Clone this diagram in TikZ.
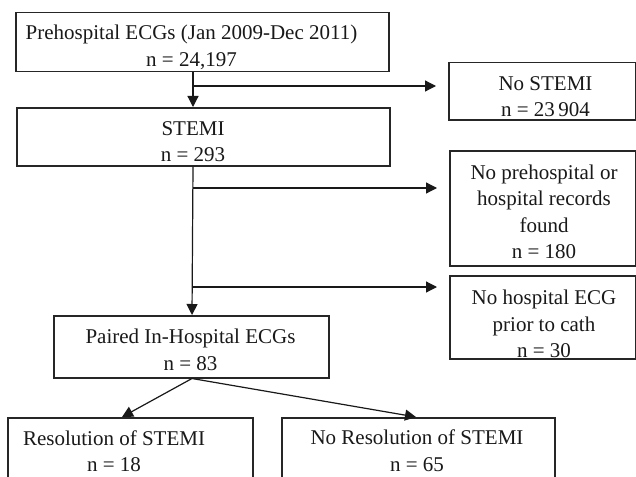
\documentclass[tikz,border=0pt]{standalone}
\usepackage{fontspec}
\setmainfont{Liberation Serif}
\usetikzlibrary{arrows.meta}
\begin{document}
\begin{tikzpicture}[x=1pt,y=-1pt,
  box/.style={draw=black!85,line width=1.5pt,inner sep=0pt,anchor=north west},
  txt/.style={align=center,inner sep=0pt,text=black!90,font=\fontsize{21}{26.5}\selectfont},
  arr/.style={draw=black!90,line width=1.2pt,-{Triangle[length=11pt,width=11pt]}},
  ln/.style={draw=black!90,line width=1.2pt}]
\clip (0,0) rectangle (636,476);
\fill[white] (0,0) rectangle (636,476);
% boxes
\node[box,minimum width=373pt,minimum height=59pt] (pre) at (15,12) {};
\node[box,minimum width=373pt,minimum height=58pt] (stemi) at (16,107) {};
\node[box,minimum width=187pt,minimum height=57pt] (nostemi) at (448,62) {};
\node[box,minimum width=186pt,minimum height=115pt] (norec) at (449,150) {};
\node[box,minimum width=186pt,minimum height=83pt] (nohosp) at (449,275) {};
\node[box,minimum width=275pt,minimum height=62pt] (paired) at (53,315) {};
\node[box,minimum width=245pt,minimum height=80pt] (res) at (7,417) {};
\node[box,minimum width=273pt,minimum height=80pt] (nores) at (281,417) {};
% texts
\node[txt] (preT) at (191.5,47.5) {Prehospital ECGs (Jan 2009-Dec 2011)\\n = 24,197};
\node[txt] (stemiT) at (193,141.5) {STEMI\\n = 293};
\node[txt] (nostemiT) at (545.5,96.5) {No STEMI\\n = 23\,904};
\node[txt] (norecT) at (544,212) {No prehospital or\\hospital records\\found\\n = 180};
\node[txt] (nohospT) at (544,324) {No hospital ECG\\prior to cath\\n = 30};
\node[txt] (pairedT) at (190.5,350) {Paired In-Hospital ECGs\\n = 83};
\node[txt] (resT) at (114,451) {Resolution of STEMI\\n = 18};
\node[txt] (noresT) at (417,450.5) {No Resolution of STEMI\\n = 65};
% spine coordinates
\coordinate (b1) at (193,86);
\coordinate (b2) at (193,188);
\coordinate (b3) at (192,287);
\coordinate (t1) at (436,86);
\coordinate (t2) at (437,188);
\coordinate (t3) at (437,287);
% connectors
\draw[arr] (pre.south -| b1) -- (stemi.north -| b1);
\draw[arr] (b1) -- (t1);
\draw[arr] (stemi.south -| b1) -- (paired.north -| b3);
\draw[arr] (b2) -- (t2);
\draw[arr] (b3) -- (t3);
\coordinate (pb) at (192,377);
\coordinate (rt) at (122,417);
\coordinate (nt) at (416,417);
\draw[arr] (paired.south -| pb) -- (res.north -| rt);
\draw[arr] (paired.south -| pb) -- (nores.north -| nt);
\end{tikzpicture}
\end{document}
